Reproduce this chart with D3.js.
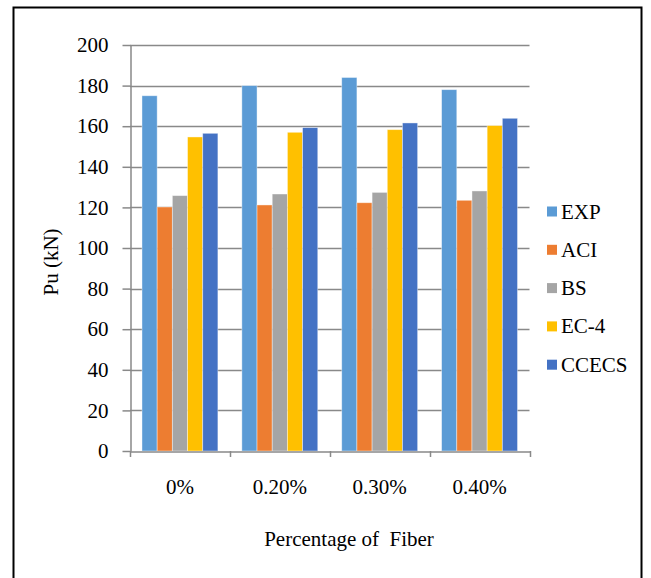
<!DOCTYPE html>
<html>
<head>
<meta charset="utf-8">
<script src="https://cdn.jsdelivr.net/npm/d3@7"></script>
<style>
  body { margin: 0; background: #fff; }
  svg { display: block; }
  text { font-family: "Liberation Serif", "Times New Roman", serif; fill: #000; }
</style>
</head>
<body>
<div id="chart"></div>
<script>
// data
const categories = ['0%', '0.20%', '0.30%', '0.40%']
const seriesNames = ['EXP', 'ACI', 'BS', 'EC-4', 'CCECS']
const expValues = [175, 180, 184, 178]
const aciValues = [120.2, 121.2, 122.3, 123.5]
const bsValues = [125.8, 126.6, 127.4, 128.1]
const ec4Values = [154.7, 157, 158.3, 160.3]
const ccecsValues = [156.5, 159.3, 161.6, 163.9]
const yTicks = [0, 20, 40, 60, 80, 100, 120, 140, 160, 180, 200]

const colours = ['#5B9BD5', '#ED7D31', '#A5A5A5', '#FFC000', '#4472C4']
const seriesValues = [expValues, aciValues, bsValues, ec4Values, ccecsValues]

const width = 651,
    height = 578
const fontSize = '21px'

let margin = {
    top: 45,
    left: 130,
    right: 122,
    bottom: 127
}

let svg = d3.select('#chart')
    .append('svg')
    .attr('width', width)
    .attr('height', height)

// outer frame
svg.append('rect')
    .attr('x', 13.5)
    .attr('y', 7.5)
    .attr('width', 628)
    .attr('height', 600)
    .attr('fill', 'none')
    .attr('stroke', '#000')
    .attr('stroke-width', 2)

let x0 = d3.scaleBand()
    .domain(categories)
    .range([margin.left, width - margin.right + 0.5])
    .paddingInner(0.24)
    .paddingOuter(0.12)

let x1 = d3.scaleBand()
    .domain(seriesNames)
    .range([0, x0.bandwidth()])

let y = d3.scaleLinear()
    .domain([0, 200])
    .range([height - margin.bottom, margin.top])

// gridlines
svg.append('g')
    .selectAll('line')
    .data(yTicks.slice(1))
    .join('line')
    .attr('x1', margin.left)
    .attr('x2', x0.range()[1])
    .attr('y1', d => Math.round(y(d)) + 0.5)
    .attr('y2', d => Math.round(y(d)) + 0.5)
    .attr('stroke', '#898989')
    .attr('stroke-width', 1.5)

// bars
let rows = []
categories.forEach((c, i) => {
    seriesNames.forEach((s, j) => {
        rows.push({ cat: c, name: s, value: seriesValues[j][i], colour: colours[j] })
    })
})

svg.append('g')
    .selectAll('rect')
    .data(rows)
    .join('rect')
    .attr('x', d => x0(d.cat) + x1(d.name))
    .attr('y', d => y(d.value))
    .attr('width', x1.bandwidth())
    .attr('height', d => y(0) - y(d.value))
    .attr('fill', d => d.colour)
    .attr('stroke', 'rgba(255,255,255,0.5)')
    .attr('stroke-width', 0.8)

// y axis
let yAxis = svg.append('g')
    .attr('transform', `translate(${margin.left + 0.5},0)`)
    .call(d3.axisLeft(y).tickValues(yTicks).tickSize(8).tickPadding(14).tickSizeOuter(0))
yAxis.attr('font-family', null).attr('font-size', null)
yAxis.select('.domain').attr('stroke', '#898989').attr('stroke-width', 1.5)
yAxis.selectAll('.tick line').attr('stroke', '#898989').attr('stroke-width', 1.5)
yAxis.selectAll('.tick text')
    .style('font-size', fontSize)
    .attr('fill', '#000')

// x axis
let xAxis = svg.append('g')
    .attr('transform', `translate(0,${Math.round(y(0)) + 0.5})`)
    .call(d3.axisBottom(x0).tickSize(0).tickPadding(28))
xAxis.attr('font-family', null).attr('font-size', null)
xAxis.select('.domain').attr('stroke', '#898989').attr('stroke-width', 1.5)
xAxis.selectAll('.tick text')
    .style('font-size', fontSize)
    .attr('fill', '#000')

// category separators below the axis
let sepX = categories.map(c => x0(c) - x0.step() * x0.paddingInner() / 2)
sepX.push(x0.range()[1])
svg.append('g')
    .selectAll('line')
    .data(sepX)
    .join('line')
    .attr('x1', d => Math.round(d) + 0.5)
    .attr('x2', d => Math.round(d) + 0.5)
    .attr('y1', y(0))
    .attr('y2', y(0) + 6)
    .attr('stroke', '#898989')
    .attr('stroke-width', 1.5)

// axis titles
svg.append('text')
    .attr('transform', `translate(58,262) rotate(-90)`)
    .attr('text-anchor', 'middle')
    .style('font-size', fontSize)
    .text('Pu (kN)')

svg.append('text')
    .attr('x', 349)
    .attr('y', 546)
    .attr('text-anchor', 'middle')
    .style('font-size', fontSize)
    .style('white-space', 'pre')
    .attr('xml:space', 'preserve')
    .text('Percentage of  Fiber')

// legend
let legend = svg.append('g')
    .selectAll('g')
    .data(seriesNames)
    .join('g')
    .attr('transform', (d, i) => `translate(547,${211.5 + i * 38.3})`)

legend.append('rect')
    .attr('x', 0)
    .attr('y', -5)
    .attr('width', 10)
    .attr('height', 10)
    .attr('fill', (d, i) => colours[i])

legend.append('text')
    .attr('x', 14)
    .attr('y', 7)
    .style('font-size', fontSize)
    .text(d => d)
</script>
</body>
</html>
